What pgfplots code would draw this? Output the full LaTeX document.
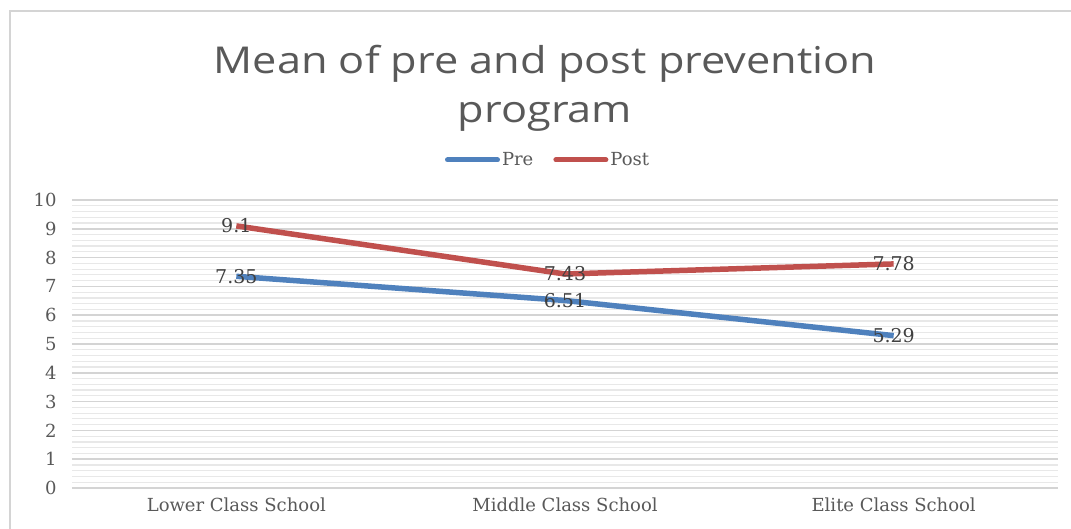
\documentclass[border=0pt]{standalone}
\usepackage{pgfplots}
\pgfplotsset{compat=1.18}
\usepackage{fontspec}
\setmainfont{DejaVu Serif}
\newfontfamily\titlefont{Open Sans}
\definecolor{preblue}{HTML}{4F81BD}
\definecolor{postred}{HTML}{C0504D}
\definecolor{txtgray}{HTML}{595959}
\definecolor{lblgray}{HTML}{404040}
\definecolor{majgrid}{HTML}{D4D4D4}
\definecolor{mingrid}{HTML}{E8E8E8}
\begin{document}
\begin{tikzpicture}
\path[use as bounding box] (0pt,0pt) rectangle (1071pt,529pt);
\draw[majgrid, line width=1.5pt] (10pt,0pt) -- (10pt,518pt) -- (1071pt,518pt);
\node[text=txtgray, font={\titlefont\fontsize{37}{50}\selectfont}, anchor=center] at (545pt,441pt) {\scalebox{1.17}[1]{\begin{tabular}{@{}c@{}}Mean of pre and post prevention\\[-0.05em]program\end{tabular}}};
\begin{axis}[
  at={(72pt,41pt)}, anchor=south west,
  scale only axis, width=986pt, height=288pt,
  xmin=-0.5, xmax=2.5, ymin=0, ymax=10,
  xtick={0,1,2},
  xticklabels={Lower Class School, Middle Class School, Elite Class School},
  ytick={0,1,...,10},
  minor y tick num=4,
  ymajorgrids, yminorgrids,
  major grid style={majgrid, line width=1.5pt},
  minor grid style={mingrid, line width=1.2pt},
  axis line style={draw=none},
  major tick length=0pt, minor tick length=0pt,
  /pgf/number format/assume math mode=true,
  ticklabel style={font=\fontsize{18}{20}\selectfont, text=txtgray},
  yticklabel style={xshift=-12pt},
  xticklabel style={yshift=-6pt},
  legend style={at={(0.4828,1.139)}, anchor=center, draw=none, fill=none,
    legend columns=2, font=\fontsize{18}{20}\selectfont, text=txtgray,
    /tikz/every even column/.append style={column sep=18pt}},
  legend image code/.code={\draw[#1, line width=5pt, line cap=round] (0pt,0pt) -- (50pt,0pt);},
  nodes near coords,
  point meta=explicit symbolic,
  every node near coord/.append style={anchor=center, font=\fontsize{19}{20}\selectfont, text=lblgray},
]
\addplot[preblue, line width=5.5pt, mark=none] coordinates {(0,7.35) [7.35] (1,6.51) [6.51] (2,5.29) [5.29]};
\addlegendentry{Pre}
\addplot[postred, line width=5.5pt, mark=none] coordinates {(0,9.1) [9.1] (1,7.43) [7.43] (2,7.78) [7.78]};
\addlegendentry{Post}
\end{axis}
\end{tikzpicture}
\end{document}
